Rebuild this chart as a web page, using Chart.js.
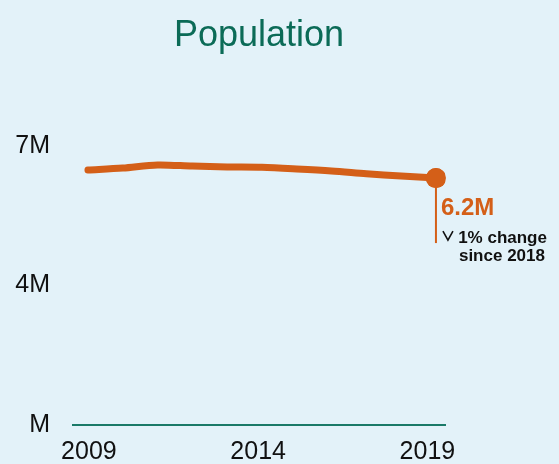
<!DOCTYPE html>
<html>
<head>
<meta charset="utf-8">
<script src="https://cdn.jsdelivr.net/npm/chart.js@4.4.1/dist/chart.umd.min.js"></script>
<style>
  html, body { margin: 0; padding: 0; background: #e3f2f9; }
  #wrap { width: 559px; height: 464px; }
</style>
</head>
<body>
<div id="wrap"><canvas id="grafico"></canvas></div>
<script>
'use strict';
// dados
const anos = [2009, 2010, 2011, 2012, 2013, 2014, 2015, 2016, 2017, 2018, 2019];
const populacao = [6.40, 6.45, 6.53, 6.50, 6.48, 6.47, 6.43, 6.38, 6.31, 6.25, 6.20];
const yTicks = [0, 3.5, 7];
const yLabels = ['M', '4M', '7M'];
const xTicks = [2009, 2014, 2019];
const destaque = '6.2M';
const nota = ['1% change', 'since 2018'];

const laranja = '#d45f18';
const verde = '#0b6b57';
const ultimo = populacao.length - 1;

// anotacao do ultimo ponto
const anotacao = {
    id: 'anotacao',
    afterDatasetsDraw(chart) {
        const ctx = chart.ctx;
        const p = chart.getDatasetMeta(0).data[ultimo];
        ctx.save();
        ctx.strokeStyle = laranja;
        ctx.lineWidth = 2;
        ctx.beginPath();
        ctx.moveTo(p.x, p.y);
        ctx.lineTo(p.x, p.y + 65);
        ctx.stroke();
        // redesenha o marcador por cima
        ctx.fillStyle = laranja;
        ctx.beginPath();
        ctx.arc(p.x, p.y, 10, 0, Math.PI * 2);
        ctx.fill();

        ctx.fillStyle = laranja;
        ctx.font = 'bold 24px "Liberation Sans", Arial, sans-serif';
        ctx.textAlign = 'left';
        ctx.textBaseline = 'alphabetic';
        ctx.fillText(destaque, p.x + 5, p.y + 37);

        // seta para baixo
        ctx.strokeStyle = '#111';
        ctx.lineWidth = 1.6;
        ctx.beginPath();
        ctx.moveTo(p.x + 7, p.y + 53);
        ctx.lineTo(p.x + 12, p.y + 62);
        ctx.lineTo(p.x + 17, p.y + 53);
        ctx.stroke();

        ctx.fillStyle = '#111';
        ctx.font = 'bold 17px "Liberation Sans", Arial, sans-serif';
        ctx.textAlign = 'right';
        ctx.fillText(nota[0], p.x + 111, p.y + 65);
        ctx.fillText(nota[1], p.x + 109, p.y + 83);
        ctx.restore();
    }
};

const ctx = document.getElementById('grafico').getContext('2d');
const grafico = new Chart(ctx, {
    type: 'line',
    plugins: [anotacao],
    data: {
        datasets: [{
            data: anos.map((a, i) => ({ x: a, y: populacao[i] })),
            xAxisID: 'xd',
            borderColor: laranja,
            backgroundColor: laranja,
            borderWidth: 7,
            borderCapStyle: 'round',
            borderJoinStyle: 'round',
            tension: 0.3,
            pointRadius: (c) => c.dataIndex === ultimo ? 10 : 0,
            pointHoverRadius: 0,
            pointBorderWidth: 0
        }]
    },
    options: {
        responsive: true,
        maintainAspectRatio: false,
        animation: false,
        layout: { padding: { left: 0, right: 114, top: 0, bottom: 0 } },
        scales: {
            // eixo dos dados (escondido)
            xd: {
                type: 'linear',
                display: false,
                min: 2008.57,
                max: 2019.26
            },
            // eixo dos rotulos
            x: {
                type: 'linear',
                position: 'bottom',
                min: 2008.53,
                max: 2019.52,
                grid: { display: false, drawTicks: false },
                border: { display: true, color: '#1a7a68', width: 2 },
                afterBuildTicks: (s) => { s.ticks = xTicks.map(v => ({ value: v })); },
                afterFit: (s) => { s.height = 39; },
                ticks: {
                    color: '#111',
                    padding: 12,
                    maxRotation: 0,
                    font: { family: '"Liberation Sans", Arial, sans-serif', size: 25 },
                    callback: (v) => String(v)
                }
            },
            y: {
                min: 0,
                max: 7,
                grid: { display: false, drawTicks: false },
                border: { display: false },
                afterBuildTicks: (s) => { s.ticks = yTicks.map(v => ({ value: v })); },
                afterFit: (s) => { s.width = 73; },
                ticks: {
                    color: '#111',
                    padding: 23,
                    font: { family: '"Liberation Sans", Arial, sans-serif', size: 25 },
                    callback: (v) => yLabels[yTicks.indexOf(v)]
                }
            }
        },
        plugins: {
            legend: { display: false },
            tooltip: { enabled: false },
            title: {
                display: true,
                text: 'Population',
                fullSize: false,
                color: verde,
                font: { family: '"Liberation Sans", Arial, sans-serif', size: 36, weight: 'normal' },
                padding: { top: 14, bottom: 89 }
            }
        }
    }
});
</script>
</body>
</html>
